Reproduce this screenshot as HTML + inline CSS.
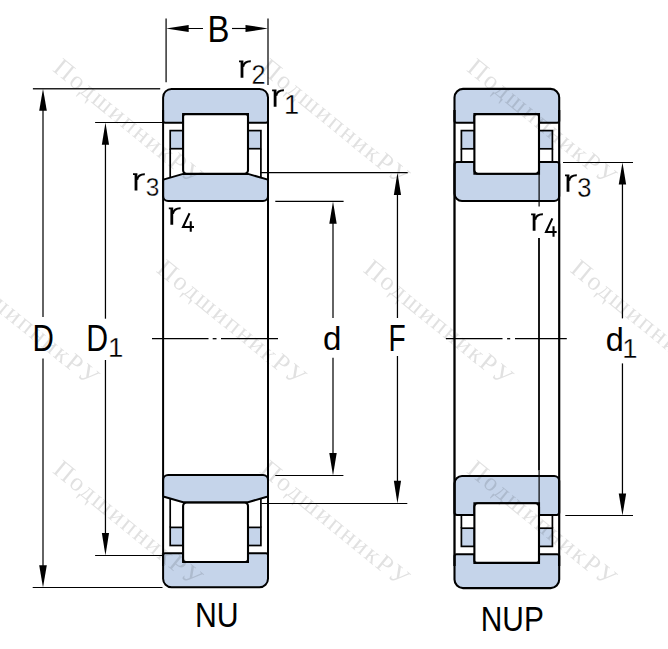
<!DOCTYPE html><html><head><meta charset="utf-8"><style>html,body{margin:0;padding:0;background:#fff;width:668px;height:649px;overflow:hidden}</style></head><body><svg width="668" height="649" viewBox="0 0 668 649" style="position:absolute;left:0;top:0">
<rect width="668" height="649" fill="#fff"/>
<g>
<path d="M163.1,97.4 A8.5,8.5 0 0 1 171.6,88.9 H259.5 A8.5,8.5 0 0 1 268.0,97.4 V120.8 A2,2 0 0 1 266.0,122.8 H248 V114.1 H183.1 V122.8 H165.1 A2,2 0 0 1 163.1,120.8 Z" fill="#C5D4EA" stroke="#000" stroke-width="2"/>
<rect x="170.2" y="130.6" width="12.9" height="18.1" fill="#C5D4EA" stroke="#000" stroke-width="1.7"/>
<rect x="248" y="130.6" width="12.9" height="18.1" fill="#C5D4EA" stroke="#000" stroke-width="1.7"/>
<line x1="170.2" y1="148.7" x2="170.2" y2="178" stroke="#000" stroke-width="1.7"/>
<line x1="260.9" y1="148.7" x2="260.9" y2="178" stroke="#000" stroke-width="1.7"/>
<path d="M183.1,116.6 A2.5,2.5 0 0 1 185.6,114.1 H245.5 A2.5,2.5 0 0 1 248,116.6 V170.2 A3.5,3.5 0 0 1 244.5,173.7 H186.6 A3.5,3.5 0 0 1 183.1,170.2 Z" fill="#fff" stroke="#000" stroke-width="2.1"/>
<path d="M163.1,180.8 A1.5,1.5 0 0 1 164.1,179.4 L183.1,173.9 H248 L267.0,179.4 A1.5,1.5 0 0 1 268.0,180.8 V196 A5,5 0 0 1 263.0,201 H168.1 A5,5 0 0 1 163.1,196 Z" fill="#C5D4EA" stroke="#000" stroke-width="2"/>
</g>
<g transform="matrix(1 0 0 -1 0 676.1)">
<path d="M163.1,97.4 A8.5,8.5 0 0 1 171.6,88.9 H259.5 A8.5,8.5 0 0 1 268.0,97.4 V120.8 A2,2 0 0 1 266.0,122.8 H248 V114.1 H183.1 V122.8 H165.1 A2,2 0 0 1 163.1,120.8 Z" fill="#C5D4EA" stroke="#000" stroke-width="2"/>
<rect x="170.2" y="130.6" width="12.9" height="18.1" fill="#C5D4EA" stroke="#000" stroke-width="1.7"/>
<rect x="248" y="130.6" width="12.9" height="18.1" fill="#C5D4EA" stroke="#000" stroke-width="1.7"/>
<line x1="170.2" y1="148.7" x2="170.2" y2="178" stroke="#000" stroke-width="1.7"/>
<line x1="260.9" y1="148.7" x2="260.9" y2="178" stroke="#000" stroke-width="1.7"/>
<path d="M183.1,116.6 A2.5,2.5 0 0 1 185.6,114.1 H245.5 A2.5,2.5 0 0 1 248,116.6 V170.2 A3.5,3.5 0 0 1 244.5,173.7 H186.6 A3.5,3.5 0 0 1 183.1,170.2 Z" fill="#fff" stroke="#000" stroke-width="2.1"/>
<path d="M163.1,180.8 A1.5,1.5 0 0 1 164.1,179.4 L183.1,173.9 H248 L267.0,179.4 A1.5,1.5 0 0 1 268.0,180.8 V196 A5,5 0 0 1 263.0,201 H168.1 A5,5 0 0 1 163.1,196 Z" fill="#C5D4EA" stroke="#000" stroke-width="2"/>
</g>
<line x1="163.1" y1="110" x2="163.1" y2="566" stroke="#000" stroke-width="2"/>
<line x1="268.0" y1="110" x2="268.0" y2="566" stroke="#000" stroke-width="2"/>
<g>
<path d="M454.5,97.4 A8.5,8.5 0 0 1 463.0,88.9 H550.7 A8.5,8.5 0 0 1 559.2,97.4 V120.8 A2,2 0 0 1 557.2,122.8 H539 V114.1 H474.4 V122.8 H456.5 A2,2 0 0 1 454.5,120.8 Z" fill="#C5D4EA" stroke="#000" stroke-width="2.1"/>
<rect x="461.4" y="130.6" width="13" height="18.2" fill="#C5D4EA" stroke="#000" stroke-width="1.7"/>
<rect x="539" y="130.6" width="13.4" height="18.2" fill="#C5D4EA" stroke="#000" stroke-width="1.7"/>
<line x1="461.4" y1="148.8" x2="461.4" y2="162" stroke="#000" stroke-width="1.7"/>
<line x1="552.4" y1="148.8" x2="552.4" y2="162" stroke="#000" stroke-width="1.7"/>
<path d="M454.5,164.5 A2.5,2.5 0 0 1 457.0,162 H474.4 V173.8 H539 V162 H556.7 A2.5,2.5 0 0 1 559.2,164.5 V196 A5,5 0 0 1 554.2,201 H462.0 A7.5,7.5 0 0 1 454.5,193.5 Z" fill="#C5D4EA" stroke="#000" stroke-width="2.1"/>
<path d="M474.4,116.6 A2.5,2.5 0 0 1 476.9,114.1 H536.5 A2.5,2.5 0 0 1 539,116.6 V170.3 A3.5,3.5 0 0 1 535.5,173.8 H477.9 A3.5,3.5 0 0 1 474.4,170.3 Z" fill="#fff" stroke="#000" stroke-width="2.1"/>
<line x1="539.1" y1="173.8" x2="539.1" y2="206.5" stroke="#000" stroke-width="1.2"/>
</g>
<g transform="matrix(1 0 0 -1 0 677)">
<path d="M454.5,97.4 A8.5,8.5 0 0 1 463.0,88.9 H550.7 A8.5,8.5 0 0 1 559.2,97.4 V120.8 A2,2 0 0 1 557.2,122.8 H539 V114.1 H474.4 V122.8 H456.5 A2,2 0 0 1 454.5,120.8 Z" fill="#C5D4EA" stroke="#000" stroke-width="2.1"/>
<rect x="461.4" y="130.6" width="13" height="18.2" fill="#C5D4EA" stroke="#000" stroke-width="1.7"/>
<rect x="539" y="130.6" width="13.4" height="18.2" fill="#C5D4EA" stroke="#000" stroke-width="1.7"/>
<line x1="461.4" y1="148.8" x2="461.4" y2="162" stroke="#000" stroke-width="1.7"/>
<line x1="552.4" y1="148.8" x2="552.4" y2="162" stroke="#000" stroke-width="1.7"/>
<path d="M454.5,164.5 A2.5,2.5 0 0 1 457.0,162 H474.4 V173.8 H539 V162 H556.7 A2.5,2.5 0 0 1 559.2,164.5 V196 A5,5 0 0 1 554.2,201 H462.0 A7.5,7.5 0 0 1 454.5,193.5 Z" fill="#C5D4EA" stroke="#000" stroke-width="2.1"/>
<path d="M474.4,116.6 A2.5,2.5 0 0 1 476.9,114.1 H536.5 A2.5,2.5 0 0 1 539,116.6 V170.3 A3.5,3.5 0 0 1 535.5,173.8 H477.9 A3.5,3.5 0 0 1 474.4,170.3 Z" fill="#fff" stroke="#000" stroke-width="2.1"/>
<line x1="539.1" y1="173.8" x2="539.1" y2="206.5" stroke="#000" stroke-width="1.2"/>
</g>
<line x1="454.5" y1="110" x2="454.5" y2="566" stroke="#000" stroke-width="2.3"/>
<line x1="559.2" y1="110" x2="559.2" y2="566" stroke="#000" stroke-width="2.2"/>
<line x1="539.0" y1="238" x2="539.0" y2="470.5" stroke="#000" stroke-width="1.8"/>
<line x1="152" y1="338.7" x2="208.5" y2="338.7" stroke="#000" stroke-width="1.3"/>
<line x1="212.7" y1="338.7" x2="216.5" y2="338.7" stroke="#000" stroke-width="1.3"/>
<line x1="221" y1="338.7" x2="278" y2="338.7" stroke="#000" stroke-width="1.3"/>
<line x1="445.9" y1="338.7" x2="502.5" y2="338.7" stroke="#000" stroke-width="1.3"/>
<line x1="507.1" y1="338.7" x2="510.2" y2="338.7" stroke="#000" stroke-width="1.3"/>
<line x1="515" y1="338.7" x2="566.8" y2="338.7" stroke="#000" stroke-width="1.3"/>
<line x1="43.0" y1="100" x2="43.0" y2="317" stroke="#222" stroke-width="1.4"/>
<line x1="43.0" y1="358.4" x2="43.0" y2="576" stroke="#222" stroke-width="1.4"/>
<path d="M43.0,88.8 L39.2,110.8 L46.8,110.8 Z" fill="#000"/>
<path d="M43.0,587.5 L39.2,565.2 L46.8,565.2 Z" fill="#000"/>
<line x1="32.9" y1="88.75" x2="160.2" y2="88.75" stroke="#222" stroke-width="1.3"/>
<line x1="32.7" y1="587.5" x2="162.5" y2="587.5" stroke="#000" stroke-width="1.15"/>
<line x1="105.45" y1="130" x2="105.45" y2="318.7" stroke="#000" stroke-width="1.25"/>
<line x1="105.45" y1="360" x2="105.45" y2="548" stroke="#000" stroke-width="1.25"/>
<path d="M105.45,122.5 L101.85000000000001,144.8 L109.05,144.8 Z" fill="#000"/>
<path d="M105.45,555.5 L101.85000000000001,533.1 L109.05,533.1 Z" fill="#000"/>
<line x1="95.1" y1="122.5" x2="163" y2="122.5" stroke="#000" stroke-width="1.15"/>
<line x1="95.1" y1="555.5" x2="163" y2="555.5" stroke="#000" stroke-width="1.15"/>
<line x1="333.0" y1="208" x2="333.0" y2="318" stroke="#222" stroke-width="1.4"/>
<line x1="333.0" y1="357.8" x2="333.0" y2="468" stroke="#222" stroke-width="1.4"/>
<path d="M333.0,201.45 L329.3,223.8 L336.7,223.8 Z" fill="#000"/>
<path d="M333.0,475.5 L329.3,452.9 L336.7,452.9 Z" fill="#000"/>
<line x1="275.3" y1="201.45" x2="343.6" y2="201.45" stroke="#000" stroke-width="1.2"/>
<line x1="275.3" y1="475.5" x2="343.4" y2="475.5" stroke="#000" stroke-width="1.15"/>
<line x1="397.45" y1="180" x2="397.45" y2="318" stroke="#000" stroke-width="1.25"/>
<line x1="397.45" y1="356" x2="397.45" y2="496" stroke="#000" stroke-width="1.25"/>
<path d="M397.45,172.7 L393.84999999999997,195 L401.05,195 Z" fill="#000"/>
<path d="M397.45,503.5 L393.84999999999997,480.8 L401.05,480.8 Z" fill="#000"/>
<line x1="260.3" y1="172.7" x2="407.7" y2="172.7" stroke="#000" stroke-width="1.3"/>
<line x1="261.3" y1="503.5" x2="407.3" y2="503.5" stroke="#000" stroke-width="1.15"/>
<line x1="622.45" y1="170" x2="622.45" y2="318.4" stroke="#000" stroke-width="1.25"/>
<line x1="622.45" y1="363.4" x2="622.45" y2="508" stroke="#000" stroke-width="1.25"/>
<path d="M622.45,162.5 L618.75,184.6 L626.1500000000001,184.6 Z" fill="#000"/>
<path d="M622.45,515.5 L618.75,493.4 L626.1500000000001,493.4 Z" fill="#000"/>
<line x1="563" y1="162.5" x2="633" y2="162.5" stroke="#000" stroke-width="1.15"/>
<line x1="565.3" y1="515.5" x2="633" y2="515.5" stroke="#000" stroke-width="1.15"/>
<line x1="170" y1="28.5" x2="203" y2="28.5" stroke="#000" stroke-width="1.15"/>
<line x1="232" y1="28.5" x2="262" y2="28.5" stroke="#000" stroke-width="1.15"/>
<path d="M166,28.5 L188.7,24.9 L188.7,32.1 Z" fill="#000"/>
<path d="M268,28.5 L245.5,24.9 L245.5,32.1 Z" fill="#000"/>
<line x1="166.1" y1="18.4" x2="166.1" y2="82.3" stroke="#222" stroke-width="1.4"/>
<line x1="268.0" y1="18.4" x2="268.0" y2="85" stroke="#222" stroke-width="1.4"/>
<text transform="translate(207.57,41.80) scale(0.887,1)" font-family="Liberation Sans" font-size="37.10" fill="#000">B</text>
<text transform="translate(32.53,350.70) scale(0.807,1)" font-family="Liberation Sans" font-size="36.67" fill="#000">D</text>
<text transform="translate(86.28,350.90) scale(0.809,1)" font-family="Liberation Sans" font-size="37.39" fill="#000">D</text>
<text transform="translate(108.02,357.00) scale(0.989,1)" font-family="Liberation Sans" font-size="27.97" fill="#000" stroke="#fff" stroke-width="0.30">1</text>
<text transform="translate(322.98,350.46) scale(0.970,1)" font-family="Liberation Sans" font-size="34.15" fill="#000">d</text>
<text transform="translate(388.45,350.80) scale(0.774,1)" font-family="Liberation Sans" font-size="36.38" fill="#000">F</text>
<text transform="translate(605.70,350.66) scale(0.965,1)" font-family="Liberation Sans" font-size="33.61" fill="#000">d</text>
<text transform="translate(622.24,357.90) scale(1.013,1)" font-family="Liberation Sans" font-size="27.10" fill="#000" stroke="#fff" stroke-width="0.30">1</text>
<path d="M239.00,60.40 H243.40 V77.70 H240.60 V62.20 H239.00 Z" fill="#000"/>
<path d="M243.10,66.80 C243.90,62.80 246.20,61.25 250.80,61.35" fill="none" stroke="#000" stroke-width="2.05"/>
<text transform="translate(251.44,83.80) scale(0.907,1)" font-family="Liberation Sans" font-size="27.86" fill="#000" stroke="#fff" stroke-width="0.33">2</text>
<path d="M272.10,89.40 H276.50 V106.70 H273.70 V91.20 H272.10 Z" fill="#000"/>
<path d="M276.20,95.80 C277.00,91.80 279.30,90.25 283.90,90.35" fill="none" stroke="#000" stroke-width="2.05"/>
<text transform="translate(283.96,113.70) scale(0.988,1)" font-family="Liberation Sans" font-size="27.54" fill="#000" stroke="#fff" stroke-width="0.30">1</text>
<path d="M133.00,173.30 H137.40 V190.60 H134.60 V175.10 H133.00 Z" fill="#000"/>
<path d="M137.10,179.70 C137.90,175.70 140.20,174.15 144.80,174.25" fill="none" stroke="#000" stroke-width="2.05"/>
<text transform="translate(145.72,196.44) scale(0.949,1)" font-family="Liberation Sans" font-size="25.77" fill="#000" stroke="#fff" stroke-width="0.32">3</text>
<path d="M168.80,207.40 H173.20 V224.70 H170.40 V209.20 H168.80 Z" fill="#000"/>
<path d="M172.90,213.80 C173.70,209.80 176.00,208.25 180.60,208.35" fill="none" stroke="#000" stroke-width="2.05"/>
<path d="M189.53,213.30 L183.02,227.00 H194.00 M190.75,221.30 V231.70" fill="none" stroke="#000" stroke-width="2.05" stroke-linejoin="miter"/>
<path d="M565.00,174.40 H569.40 V191.70 H566.60 V176.20 H565.00 Z" fill="#000"/>
<path d="M569.10,180.80 C569.90,176.80 572.20,175.25 576.80,175.35" fill="none" stroke="#000" stroke-width="2.05"/>
<text transform="translate(577.18,197.43) scale(0.949,1)" font-family="Liberation Sans" font-size="26.90" fill="#000" stroke="#fff" stroke-width="0.32">3</text>
<path d="M531.10,213.40 H535.50 V230.70 H532.70 V215.20 H531.10 Z" fill="#000"/>
<path d="M535.20,219.80 C536.00,215.80 538.30,214.25 542.90,214.35" fill="none" stroke="#000" stroke-width="2.05"/>
<path d="M552.34,218.40 L545.99,232.02 H556.70 M553.53,226.35 V236.70" fill="none" stroke="#000" stroke-width="2.05" stroke-linejoin="miter"/>
<text transform="translate(194.98,626.85) scale(0.865,1)" font-family="Liberation Sans" font-size="35.00" fill="#000">NU</text>
<text transform="translate(480.81,630.55) scale(0.860,1)" font-family="Liberation Sans" font-size="34.71" fill="#000">NUP</text>
<g opacity="0.12">
<text transform="translate(-258.66,-130.49) rotate(39.2)" font-family="Liberation Serif" font-size="25.7" letter-spacing="2.0" fill="#000">ПодшипникРУ</text>
<text transform="translate(-51.66,-130.49) rotate(39.2)" font-family="Liberation Serif" font-size="25.7" letter-spacing="2.0" fill="#000">ПодшипникРУ</text>
<text transform="translate(155.34,-130.49) rotate(39.2)" font-family="Liberation Serif" font-size="25.7" letter-spacing="2.0" fill="#000">ПодшипникРУ</text>
<text transform="translate(362.34,-130.49) rotate(39.2)" font-family="Liberation Serif" font-size="25.7" letter-spacing="2.0" fill="#000">ПодшипникРУ</text>
<text transform="translate(569.34,-130.49) rotate(39.2)" font-family="Liberation Serif" font-size="25.7" letter-spacing="2.0" fill="#000">ПодшипникРУ</text>
<text transform="translate(776.34,-130.49) rotate(39.2)" font-family="Liberation Serif" font-size="25.7" letter-spacing="2.0" fill="#000">ПодшипникРУ</text>
<text transform="translate(-362.16,70.36) rotate(39.2)" font-family="Liberation Serif" font-size="25.7" letter-spacing="2.0" fill="#000">ПодшипникРУ</text>
<text transform="translate(-155.16,70.36) rotate(39.2)" font-family="Liberation Serif" font-size="25.7" letter-spacing="2.0" fill="#000">ПодшипникРУ</text>
<text transform="translate(51.84,70.36) rotate(39.2)" font-family="Liberation Serif" font-size="25.7" letter-spacing="2.0" fill="#000">ПодшипникРУ</text>
<text transform="translate(258.84,70.36) rotate(39.2)" font-family="Liberation Serif" font-size="25.7" letter-spacing="2.0" fill="#000">ПодшипникРУ</text>
<text transform="translate(465.84,70.36) rotate(39.2)" font-family="Liberation Serif" font-size="25.7" letter-spacing="2.0" fill="#000">ПодшипникРУ</text>
<text transform="translate(672.84,70.36) rotate(39.2)" font-family="Liberation Serif" font-size="25.7" letter-spacing="2.0" fill="#000">ПодшипникРУ</text>
<text transform="translate(-258.66,271.21) rotate(39.2)" font-family="Liberation Serif" font-size="25.7" letter-spacing="2.0" fill="#000">ПодшипникРУ</text>
<text transform="translate(-51.66,271.21) rotate(39.2)" font-family="Liberation Serif" font-size="25.7" letter-spacing="2.0" fill="#000">ПодшипникРУ</text>
<text transform="translate(155.34,271.21) rotate(39.2)" font-family="Liberation Serif" font-size="25.7" letter-spacing="2.0" fill="#000">ПодшипникРУ</text>
<text transform="translate(362.34,271.21) rotate(39.2)" font-family="Liberation Serif" font-size="25.7" letter-spacing="2.0" fill="#000">ПодшипникРУ</text>
<text transform="translate(569.34,271.21) rotate(39.2)" font-family="Liberation Serif" font-size="25.7" letter-spacing="2.0" fill="#000">ПодшипникРУ</text>
<text transform="translate(776.34,271.21) rotate(39.2)" font-family="Liberation Serif" font-size="25.7" letter-spacing="2.0" fill="#000">ПодшипникРУ</text>
<text transform="translate(-362.16,472.06) rotate(39.2)" font-family="Liberation Serif" font-size="25.7" letter-spacing="2.0" fill="#000">ПодшипникРУ</text>
<text transform="translate(-155.16,472.06) rotate(39.2)" font-family="Liberation Serif" font-size="25.7" letter-spacing="2.0" fill="#000">ПодшипникРУ</text>
<text transform="translate(51.84,472.06) rotate(39.2)" font-family="Liberation Serif" font-size="25.7" letter-spacing="2.0" fill="#000">ПодшипникРУ</text>
<text transform="translate(258.84,472.06) rotate(39.2)" font-family="Liberation Serif" font-size="25.7" letter-spacing="2.0" fill="#000">ПодшипникРУ</text>
<text transform="translate(465.84,472.06) rotate(39.2)" font-family="Liberation Serif" font-size="25.7" letter-spacing="2.0" fill="#000">ПодшипникРУ</text>
<text transform="translate(672.84,472.06) rotate(39.2)" font-family="Liberation Serif" font-size="25.7" letter-spacing="2.0" fill="#000">ПодшипникРУ</text>
<text transform="translate(-258.66,672.91) rotate(39.2)" font-family="Liberation Serif" font-size="25.7" letter-spacing="2.0" fill="#000">ПодшипникРУ</text>
<text transform="translate(-51.66,672.91) rotate(39.2)" font-family="Liberation Serif" font-size="25.7" letter-spacing="2.0" fill="#000">ПодшипникРУ</text>
<text transform="translate(155.34,672.91) rotate(39.2)" font-family="Liberation Serif" font-size="25.7" letter-spacing="2.0" fill="#000">ПодшипникРУ</text>
<text transform="translate(362.34,672.91) rotate(39.2)" font-family="Liberation Serif" font-size="25.7" letter-spacing="2.0" fill="#000">ПодшипникРУ</text>
<text transform="translate(569.34,672.91) rotate(39.2)" font-family="Liberation Serif" font-size="25.7" letter-spacing="2.0" fill="#000">ПодшипникРУ</text>
<text transform="translate(776.34,672.91) rotate(39.2)" font-family="Liberation Serif" font-size="25.7" letter-spacing="2.0" fill="#000">ПодшипникРУ</text>
</g>
</svg></body></html>
